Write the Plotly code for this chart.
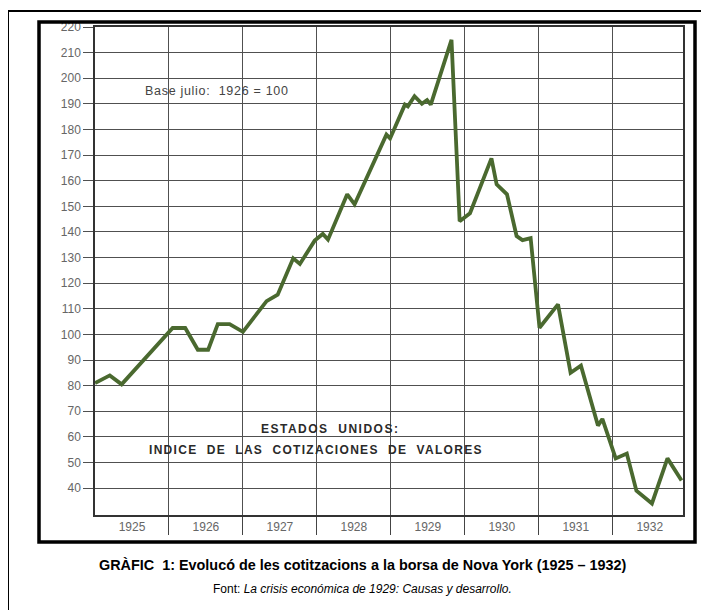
import plotly.graph_objects as go

# Índice de cotizaciones (base julio 1926 = 100)
fecha = [
    1925.00, 1925.20, 1925.36, 1926.05, 1926.22, 1926.39, 1926.53, 1926.66,
    1926.82, 1927.00, 1927.32, 1927.47, 1927.68, 1927.77, 1927.97, 1928.08,
    1928.15, 1928.41, 1928.51, 1928.94, 1928.99, 1929.19, 1929.23, 1929.32,
    1929.42, 1929.49, 1929.54, 1929.82, 1929.93, 1930.07, 1930.36, 1930.43,
    1930.57, 1930.70, 1930.78, 1930.89, 1931.01, 1931.26, 1931.43, 1931.57,
    1931.80, 1931.86, 1932.04, 1932.19, 1932.32, 1932.53, 1932.74, 1932.93,
]
indice = [
    81, 84, 80.5, 102.5, 102.5, 94, 94, 104,
    104, 101, 113, 115.5, 129.7, 127.5, 136.6, 139.2,
    137, 154.7, 150.8, 178, 176.5, 189.7, 189, 193,
    190, 191.5, 189.7, 215, 144.2, 147.3, 168.7, 158.6,
    154.7, 138.4, 136.8, 137.6, 102.6, 111.7, 85, 87.8,
    64.4, 67, 51.6, 53.5, 39, 34, 51.6, 43,
]

anys = [1925, 1926, 1927, 1928, 1929, 1930, 1931, 1932]
y_ticks = list(range(40, 221, 10))

# page has an 8px body margin, so the figure sits at (8, 8) in the window
# plot area on screen: x 95..683, y 25..515
def px_x(px):
    return (px - 95) / 588

def px_y(py):
    return (515 - py) / 490

GRID = "#505050"
FONT = "Arial, Liberation Sans, sans-serif"


def label(text, x, y, size, color="#333", weight="normal"):
    return dict(text=text, xref="paper", yref="paper",
                x=px_x(x), y=px_y(y), xanchor="center", yanchor="middle",
                showarrow=False,
                font=dict(size=size, color=color, weight=weight))


fig = go.Figure()
fig.add_trace(go.Scatter(
    x=fecha, y=indice, mode="lines",
    line=dict(color="#4a692f", width=3.8),
    showlegend=False, hoverinfo="x+y",
))

fig.update_layout(
    width=701, height=602,
    margin=dict(l=87, r=26, t=17, b=95),
    paper_bgcolor="white", plot_bgcolor="white",
    font=dict(family=FONT),
    xaxis=dict(
        range=[1925, 1932.95],
        tickmode="array",
        tickvals=[a + 0.5 for a in anys],
        ticktext=[str(a) for a in anys],
        ticks="", showgrid=False, zeroline=False,
        showline=True, linecolor="#333", linewidth=1.5, mirror=True,
        tickfont=dict(size=12, color="#666"),
        minor=dict(
            tickmode="array", tickvals=anys[1:],
            ticks="outside", ticklen=18, tickcolor="#444", tickwidth=1,
            showgrid=True, gridcolor=GRID, gridwidth=1,
        ),
    ),
    yaxis=dict(
        range=[29.5, 220],
        tickmode="array", tickvals=y_ticks,
        ticks="outside", ticklen=10, tickcolor=GRID,
        showgrid=True, gridcolor=GRID, gridwidth=1, zeroline=False,
        showline=True, linecolor="#333", linewidth=1.5, mirror=True,
        tickfont=dict(size=12, color="#666"),
    ),
    shapes=[
        # outer thin frame
        dict(type="rect", xref="paper", yref="paper",
             x0=px_x(8), x1=px_x(714), y0=px_y(620), y1=px_y(9),
             line=dict(color="black", width=2)),
        # inner thick frame
        dict(type="rect", xref="paper", yref="paper",
             x0=px_x(39), x1=px_x(695), y0=px_y(542), y1=px_y(20),
             line=dict(color="black", width=3.5)),
    ],
    annotations=[
        label("<span style='letter-spacing:0.7px'>Base julio:  1926 = 100</span>",
              217, 89, 12.5, "#444"),
        label("<span style='letter-spacing:1.5px'>ESTADOS  UNIDOS:</span>",
              330, 429, 12, "#2a2a2a", "bold"),
        label("<span style='letter-spacing:1.3px'>INDICE  DE  LAS  COTIZACIONES  DE  VALORES</span>",
              316, 450, 12, "#2a2a2a", "bold"),
        label("<b>GRÀFIC  1: Evolucó de les cotitzacions a la borsa de Nova York (1925 – 1932)</b>",
              363, 565, 14.4, "black"),
        label("Font: <i>La crisis económica de 1929: Causas y desarrollo.</i>",
              362, 589, 12, "black"),
    ],
)

fig.write_html("out.html")
